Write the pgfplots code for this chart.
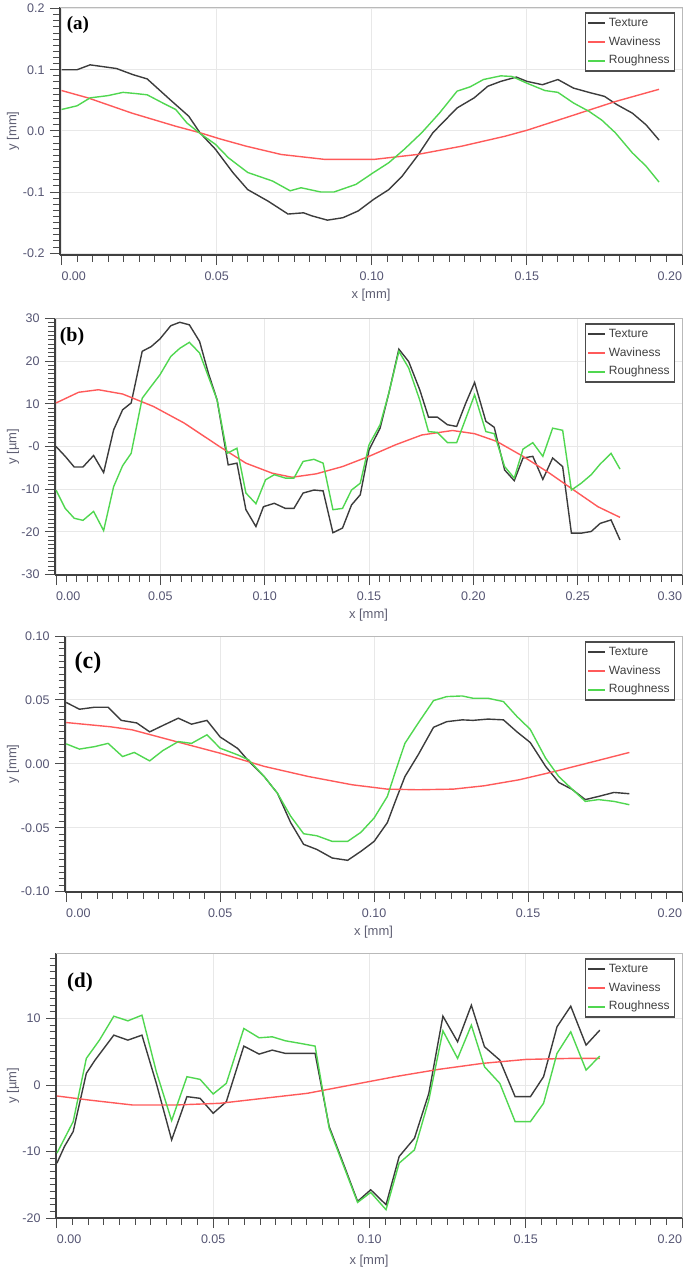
\documentclass[border=0pt]{standalone}
\usepackage{pgfplots}
\pgfplotsset{compat=1.18}
\usepackage{fontspec}
\setmainfont{Liberation Sans}
\newfontfamily\labfont{Liberation Serif}
\definecolor{tickc}{RGB}{85,85,115}
\definecolor{labc}{RGB}{95,95,115}
\definecolor{texc}{RGB}{60,60,60}
\definecolor{wavc}{RGB}{255,90,90}
\definecolor{rouc}{RGB}{80,215,80}
\newcommand{\lft}[1]{\makebox[0pt][l]{#1}}
\newcommand{\rgt}[1]{\makebox[0pt][r]{#1}}
\newcommand{\labf}{\fontsize{13}{15}\selectfont}
\pgfplotsset{
  panel/.style={
    scale only axis, anchor=north west,
    clip mode=individual,
    axis x line*=bottom, axis y line*=left,
    axis line style={draw=black!75, line width=1.5pt},
    tick align=outside,
    major tick length=10pt, minor tick length=6.5pt,
    tick style={black!70, line width=1pt},
    minor tick num=9,
    grid=major, major grid style={draw=gray!18, line width=0.9pt},
    tick label style={font=\fontsize{12.5}{14}\selectfont, text=tickc},
    xticklabel style={anchor=north, yshift=-3.5pt},
    yticklabel style={anchor=east, xshift=-2pt},
    xlabel={x [mm]},
    every axis x label/.style={at={(axis description cs:0.5,0)}, anchor=center, yshift=-40pt, font=\labf, text=labc},
    legend cell align=left,
    legend image code/.code={\draw[##1, line width=2pt] (0pt,0pt) -- (17pt,0pt);},
    legend style={at={(rel axis cs:1,1)}, anchor=north east, xshift=-7pt, yshift=-5pt,
      draw=black!70, line width=1.5pt, fill=white, inner xsep=2pt, inner ysep=1pt,
      font=\fontsize{12}{14}\selectfont,
      nodes={inner sep=2.6pt, text height=10pt, text depth=3.5pt, text=black!75}},
    after end axis/.code={\draw[gray!55, line width=0.8pt] (rel axis cs:0,1) -- (rel axis cs:1,1) -- (rel axis cs:1,0);},
  },
  ylab/.style={every axis y label/.style={at={(axis description cs:#1,0.5)}, rotate=90, anchor=center, font=\labf, text=labc}},
  tex/.style={draw=texc, line width=1.4pt},
  wav/.style={draw=wavc, line width=1.4pt},
  rou/.style={draw=rouc, line width=1.4pt},
}
\begin{document}
\begin{tikzpicture}
\path[use as bounding box] (0pt,0pt) rectangle (685pt,-1270pt);

% ---------------- (a)
\begin{axis}[panel, at={(60pt,-7pt)}, width=622pt, height=248pt,
  xmin=-0.0005, xmax=0.2, ymin=-0.203, ymax=0.2026,
  xtick={0,0.05,0.1,0.15,0.2}, xticklabels={\lft{0.00},0.05,0.10,0.15,\rgt{0.20}},
  ytick={-0.2,-0.1,0,0.1,0.2}, yticklabels={-0.2,-0.1,0.0,0.1,0.2},
  ylabel={y [mm]}, ylab=-0.0756]
\addplot[tex] coordinates {(0,0.100) (0.005,0.100) (0.0092,0.108) (0.0177,0.102) (0.023,0.092) (0.0276,0.085) (0.035,0.051) (0.041,0.024) (0.0446,-0.003) (0.0496,-0.030) (0.0552,-0.068) (0.060,-0.096) (0.0666,-0.115) (0.073,-0.136) (0.078,-0.134) (0.0807,-0.139) (0.0857,-0.146) (0.0907,-0.142) (0.0956,-0.131) (0.1006,-0.112) (0.1055,-0.096) (0.1098,-0.074) (0.1147,-0.041) (0.1197,-0.003) (0.1275,0.0375) (0.133,0.054) (0.1374,0.073) (0.1416,0.081) (0.1466,0.088) (0.150,0.081) (0.155,0.0755) (0.160,0.084) (0.165,0.070) (0.1707,0.062) (0.175,0.0565) (0.179,0.043) (0.184,0.029) (0.1884,0.010) (0.1926,-0.015)};
\addlegendentry{Texture}
\addplot[wav] coordinates {(0,0.066) (0.0085,0.054) (0.0227,0.029) (0.0368,0.0076) (0.0446,-0.003) (0.051,-0.013) (0.0595,-0.025) (0.0708,-0.0386) (0.085,-0.0467) (0.1006,-0.0467) (0.1147,-0.0386) (0.129,-0.025) (0.143,-0.0087) (0.150,0.001) (0.164,0.024) (0.1785,0.048) (0.1926,0.068)};
\addlegendentry{Waviness}
\addplot[rou] coordinates {(0,0.035) (0.005,0.041) (0.0092,0.054) (0.0149,0.0576) (0.0198,0.063) (0.024,0.061) (0.0276,0.059) (0.0326,0.0457) (0.0368,0.035) (0.0404,0.013) (0.0446,-0.004) (0.0496,-0.022) (0.0538,-0.044) (0.060,-0.068) (0.068,-0.082) (0.0737,-0.098) (0.0772,-0.093) (0.0836,-0.100) (0.0878,-0.100) (0.0949,-0.0875) (0.1006,-0.068) (0.1055,-0.052) (0.1105,-0.030) (0.1161,-0.003) (0.1218,0.029) (0.1275,0.065) (0.1317,0.072) (0.136,0.084) (0.1416,0.090) (0.1452,0.089) (0.150,0.078) (0.1558,0.066) (0.160,0.063) (0.165,0.0457) (0.170,0.032) (0.1742,0.0174) (0.1785,-0.003) (0.184,-0.036) (0.1884,-0.0576) (0.1926,-0.0837)};
\addlegendentry{Roughness}
\node[font=\labfont\bfseries\fontsize{19}{22}\selectfont, xshift=18pt, yshift=-18pt] at (rel axis cs:0,1) {(a)};
\end{axis}

% ---------------- (b)
\begin{axis}[panel, at={(55pt,-318pt)}, width=627pt, height=257pt,
  xmin=-0.0005, xmax=0.3, ymin=-30.1, ymax=30.1,
  xtick={0,0.05,0.1,0.15,0.2,0.25,0.3}, xticklabels={\lft{0.00},0.05,0.10,0.15,0.20,0.25,\rgt{0.30}},
  ytick={-30,-20,-10,0,10,20,30}, yticklabels={-30,-20,-10,-0,10,20,30},
  ylabel={y [µm]}, ylab=-0.0670]
\addplot[tex] coordinates {(0,0) (0.0044,-2.3) (0.0087,-4.8) (0.0129,-4.8) (0.018,-2.1) (0.0228,-6.1) (0.0276,3.9) (0.0319,8.6) (0.036,10.2) (0.0413,22.3) (0.0456,23.4) (0.0498,25.2) (0.055,28.3) (0.0593,29.1) (0.0639,28.5) (0.0688,24.6) (0.073,17.2) (0.0772,10.9) (0.0825,-4.3) (0.0867,-3.9) (0.091,-14.8) (0.0958,-18.75) (0.0994,-14.1) (0.1046,-13.3) (0.1099,-14.5) (0.114,-14.5) (0.1184,-10.9) (0.1236,-10.2) (0.128,-10.4) (0.1327,-20.2) (0.1373,-19.1) (0.1416,-13.7) (0.1458,-11.3) (0.15,-0.8) (0.1553,4.3) (0.1595,12.5) (0.1643,22.8) (0.169,19.9) (0.1743,13.3) (0.1785,6.9) (0.1827,6.9) (0.1876,5.1) (0.192,4.7) (0.1964,10.2) (0.2006,15.0) (0.206,5.9) (0.210,4.5) (0.215,-5.5) (0.2196,-8.0) (0.2238,-2.7) (0.2285,-2.3) (0.2333,-7.7) (0.238,-2.7) (0.2428,-4.7) (0.247,-20.3) (0.2517,-20.3) (0.2565,-19.9) (0.2608,-18.0) (0.266,-17.2) (0.2703,-21.9)};
\addlegendentry{Texture}
\addplot[wav] coordinates {(0,10.2) (0.0108,12.7) (0.0203,13.3) (0.0319,12.3) (0.0466,9.4) (0.0614,5.5) (0.0783,0) (0.091,-3.9) (0.1036,-6.25) (0.1131,-7.2) (0.1247,-6.4) (0.1373,-4.7) (0.15,-2.3) (0.1627,0.4) (0.1753,2.7) (0.190,3.75) (0.2006,3.0) (0.2112,1.2) (0.2238,-2.3) (0.2365,-6.25) (0.249,-10.5) (0.2597,-14.1) (0.2703,-16.6)};
\addlegendentry{Waviness}
\addplot[rou] coordinates {(0,-10.2) (0.0044,-14.5) (0.0087,-16.8) (0.0129,-17.3) (0.018,-15.2) (0.0228,-19.7) (0.0276,-9.4) (0.0319,-4.5) (0.036,-1.6) (0.0413,11.3) (0.0456,14.1) (0.0498,16.8) (0.055,21.1) (0.0593,23.0) (0.0639,24.4) (0.0688,21.9) (0.073,16.4) (0.0772,10.9) (0.082,-1.6) (0.0867,-0.4) (0.091,-10.9) (0.0958,-13.4) (0.1004,-7.8) (0.1046,-6.6) (0.1099,-7.4) (0.114,-7.4) (0.1184,-3.5) (0.1236,-3.0) (0.128,-3.9) (0.1327,-14.8) (0.1373,-14.5) (0.1416,-10.2) (0.1458,-8.6) (0.15,0.4) (0.1553,5.1) (0.1595,12.5) (0.1643,22.3) (0.169,18.4) (0.1743,10.9) (0.1785,3.5) (0.1827,3.3) (0.1876,0.9) (0.192,0.9) (0.1964,6.6) (0.2006,12.1) (0.206,3.5) (0.210,3.0) (0.215,-4.7) (0.2196,-7.4) (0.2238,-0.6) (0.2285,0.9) (0.2333,-2.3) (0.238,4.3) (0.2428,3.8) (0.247,-10.2) (0.2517,-8.6) (0.2565,-6.6) (0.2608,-4.1) (0.266,-1.6) (0.2703,-5.3)};
\addlegendentry{Roughness}
\node[font=\labfont\bfseries\fontsize{20}{23}\selectfont, xshift=17pt, yshift=-19pt] at (rel axis cs:0,1) {(b)};
\end{axis}

% ---------------- (c)
\begin{axis}[panel, at={(65pt,-636pt)}, width=617pt, height=256pt,
  xmin=-0.0004, xmax=0.2, ymin=-0.1003, ymax=0.1,
  xtick={0,0.05,0.1,0.15,0.2}, xticklabels={\lft{0.00},0.05,0.10,0.15,\rgt{0.20}},
  ytick={-0.1,-0.05,0,0.05,0.1}, yticklabels={-0.10,-0.05,0.00,0.05,0.10},
  ylabel={y [mm]}, ylab=-0.0843]
\addplot[tex] coordinates {(0,0.048) (0.0043,0.0427) (0.0093,0.0443) (0.0136,0.0443) (0.0179,0.034) (0.0229,0.032) (0.0271,0.025) (0.0314,0.030) (0.0364,0.0357) (0.0407,0.031) (0.0457,0.034) (0.05,0.021) (0.0557,0.012) (0.0593,0.002) (0.0643,-0.010) (0.0686,-0.023) (0.0729,-0.046) (0.0771,-0.063) (0.0814,-0.067) (0.0864,-0.0737) (0.0914,-0.0755) (0.0957,-0.0685) (0.1,-0.0607) (0.1043,-0.046) (0.1071,-0.028) (0.11,-0.010) (0.1143,0.007) (0.1193,0.0286) (0.1236,0.033) (0.1286,0.0344) (0.1321,0.034) (0.137,0.035) (0.142,0.0344) (0.1464,0.025) (0.1507,0.0167) (0.1557,-0.002) (0.16,-0.0146) (0.1643,-0.020) (0.1686,-0.028) (0.1729,-0.0255) (0.1779,-0.0224) (0.1829,-0.0234)};
\addlegendentry{Texture}
\addplot[wav] coordinates {(0,0.0323) (0.0143,0.029) (0.0214,0.0266) (0.0357,0.0174) (0.05,0.0083) (0.0643,-0.002) (0.0786,-0.0099) (0.0929,-0.0164) (0.1043,-0.0198) (0.1143,-0.0203) (0.1257,-0.0198) (0.1357,-0.0172) (0.1471,-0.0125) (0.1586,-0.006) (0.1714,0.0018) (0.1829,0.0089)};
\addlegendentry{Waviness}
\addplot[rou] coordinates {(0,0.0156) (0.0043,0.0115) (0.0093,0.0135) (0.0136,0.016) (0.0183,0.0057) (0.0221,0.0089) (0.0271,0.0023) (0.0314,0.0104) (0.0364,0.0174) (0.0407,0.016) (0.0457,0.0227) (0.05,0.0122) (0.0557,0.007) (0.0593,0.003) (0.0643,-0.010) (0.0686,-0.023) (0.0729,-0.041) (0.0771,-0.0547) (0.0814,-0.0563) (0.0864,-0.0607) (0.0914,-0.0607) (0.0957,-0.0536) (0.1,-0.0424) (0.1043,-0.0255) (0.1071,-0.0047) (0.11,0.016) (0.1143,0.0318) (0.1193,0.0495) (0.1236,0.0526) (0.1286,0.0531) (0.1321,0.0513) (0.137,0.0513) (0.142,0.0487) (0.1464,0.037) (0.1507,0.027) (0.1557,0.0044) (0.16,-0.010) (0.1643,-0.0198) (0.1686,-0.0294) (0.1729,-0.028) (0.1779,-0.0294) (0.1829,-0.032)};
\addlegendentry{Roughness}
\node[font=\labfont\bfseries\fontsize{24}{27}\selectfont, xshift=23pt, yshift=-27pt] at (rel axis cs:0,1) {(c)};
\end{axis}

% ---------------- (d)
\begin{axis}[panel, at={(56pt,-953pt)}, width=626pt, height=265pt,
  xmin=-0.0003, xmax=0.2, ymin=-20, ymax=19.85,
  xtick={0,0.05,0.1,0.15,0.2}, xticklabels={\lft{0.00},0.05,0.10,0.15,\rgt{0.20}},
  ytick={-20,-10,0,10,20}, yticklabels={-20,-10,0,10,20},
  ylabel={y [µm]}, ylab=-0.0687,
  every axis x label/.append style={yshift=-3pt}]
\addplot[tex] coordinates {(0,-11.75) (0.0024,-9.25) (0.0052,-7.0) (0.0094,1.75) (0.0122,3.75) (0.015,5.5) (0.0182,7.5) (0.0227,6.75) (0.0272,7.5) (0.0318,0.25) (0.0367,-8.25) (0.0416,-1.75) (0.0458,-2.0) (0.05,-4.25) (0.0542,-2.5) (0.0598,5.85) (0.0647,4.65) (0.0689,5.25) (0.0731,4.75) (0.078,4.75) (0.0826,4.75) (0.0871,-6.25) (0.092,-12.25) (0.0962,-17.5) (0.1004,-15.75) (0.1053,-18.0) (0.1095,-10.75) (0.1144,-8.0) (0.119,-1.25) (0.1235,10.35) (0.1282,6.5) (0.1326,12.0) (0.1368,5.75) (0.1417,3.75) (0.1466,-1.75) (0.1515,-1.75) (0.1557,1.25) (0.16,8.75) (0.1644,11.85) (0.1693,6.0) (0.1737,8.25)};
\addlegendentry{Texture}
\addplot[wav] coordinates {(0,-1.65) (0.0101,-2.25) (0.0241,-3.0) (0.0381,-3.0) (0.0521,-2.75) (0.0661,-2.0) (0.0801,-1.25) (0.0941,0) (0.1081,1.25) (0.1221,2.35) (0.1361,3.25) (0.1501,3.85) (0.1641,4.0) (0.1737,4.0)};
\addlegendentry{Waviness}
\addplot[rou] coordinates {(0,-10.25) (0.0052,-5.5) (0.0094,4.0) (0.0136,6.75) (0.0182,10.35) (0.0227,9.65) (0.0272,10.5) (0.0318,2.0) (0.0367,-5.35) (0.0416,1.25) (0.0458,0.85) (0.05,-1.35) (0.0542,0.25) (0.0598,8.5) (0.0647,7.1) (0.0689,7.25) (0.0731,6.65) (0.078,6.25) (0.0826,5.85) (0.0871,-6.5) (0.092,-12.5) (0.0962,-17.65) (0.1004,-16.15) (0.1053,-18.75) (0.1095,-11.75) (0.1144,-9.75) (0.119,-2.25) (0.1235,8.15) (0.1282,4.0) (0.1326,9.0) (0.1368,2.75) (0.1417,0.25) (0.1466,-5.5) (0.1515,-5.5) (0.1557,-2.75) (0.16,4.75) (0.1644,8.0) (0.1693,2.25) (0.1737,4.35)};
\addlegendentry{Roughness}
\node[font=\labfont\bfseries\fontsize{21}{24}\selectfont, xshift=24pt, yshift=-29pt] at (rel axis cs:0,1) {(d)};
\end{axis}
\end{tikzpicture}
\end{document}
